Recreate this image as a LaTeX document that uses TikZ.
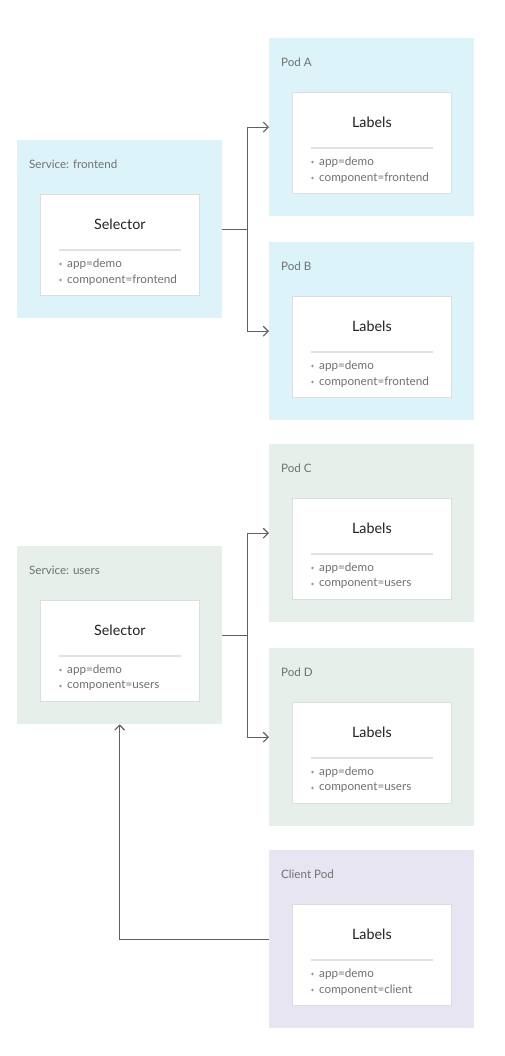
\documentclass[tikz,border=0pt]{standalone}
\usepackage{fontspec}
\setmainfont{Lato}
\usetikzlibrary{calc,arrows.meta}
\definecolor{bluebg}{HTML}{DDF3FA}
\definecolor{greenbg}{HTML}{E7EFEA}
\definecolor{lavbg}{HTML}{E8E5F3}
\definecolor{innerborder}{HTML}{DDDDDD}
\definecolor{sepgray}{HTML}{E2E2E2}
\definecolor{txtgray}{HTML}{707070}
\definecolor{headtxt}{HTML}{212121}
\definecolor{conngray}{HTML}{616161}
\tikzset{
  outerbox/.style={inner sep=0, minimum width=205pt, minimum height=178pt, draw=none},
  innerbox/.style={inner sep=0, minimum width=159pt, minimum height=101pt, fill=white, draw=innerborder, line width=0.8pt},
  titletext/.style={inner sep=0, text=txtgray, font=\fontsize{11.6}{13}\selectfont},
  headtext/.style={inner sep=0, text=headtxt, font=\fontsize{14.3}{17}\selectfont},
  itemtext/.style={inner sep=0, text=txtgray, font=\fontsize{11.7}{13}\selectfont},
  sepline/.style={draw=sepgray, line width=1.5pt},
  bulletdot/.style={circle, fill=txtgray!75, inner sep=0, minimum size=2.8pt},
  conn/.style={draw=conngray, line width=1.1pt},
  arr/.style={conn, -{Straight Barb[length=5pt,width=10pt]}}
}
\newcommand{\podbox}[7]{%
  \node[outerbox, fill=#4, anchor=north west] (#1) at (#2,#3) {};
  \node[titletext, anchor=west] (#1t) at ($(#1.north west)+(12,24)$) {#5};
  \node[innerbox, anchor=north west] (#1i) at ($(#1.north west)+(23,54)$) {};
  \node[headtext] (#1h) at ($(#1i.north)+(0,30)$) {#6};
  \draw[sepline] ($(#1i.north west)+(19,56)$) -- ($(#1i.north east)+(-19,56)$);
  \node[bulletdot] (#1b1) at ($(#1i.north west)+(20.5,70)$) {};
  \node[itemtext, anchor=west] (#1a) at ($(#1i.north west)+(27,70)$) {app=demo};
  \node[bulletdot] (#1b2) at ($(#1i.north west)+(20.5,86)$) {};
  \node[itemtext, anchor=west] (#1c) at ($(#1i.north west)+(27,86)$) {component=#7};
}
\begin{document}
\begin{tikzpicture}[x=1pt,y=-1pt]
\useasboundingbox[fill=white] (0,0) rectangle (504,1056);
\podbox{sf}{17}{140}{bluebg}{Service: frontend}{Selector}{frontend}
\podbox{pa}{269}{38}{bluebg}{Pod A}{Labels}{frontend}
\podbox{pb}{269}{242}{bluebg}{Pod B}{Labels}{frontend}
\podbox{su}{17}{546}{greenbg}{Service: users}{Selector}{users}
\podbox{pc}{269}{444}{greenbg}{Pod C}{Labels}{users}
\podbox{pd}{269}{648}{greenbg}{Pod D}{Labels}{users}
\podbox{cp}{269}{850}{lavbg}{Client Pod}{Labels}{client}
\coordinate (j1) at ($(sf.east)+(25,0)$);
\draw[conn] (sf.east) -- (j1);
\draw[arr] (j1) |- (pa.west);
\draw[arr] (j1) |- (pb.west);
\coordinate (j2) at ($(su.east)+(25,0)$);
\draw[conn] (su.east) -- (j2);
\draw[arr] (j2) |- (pc.west);
\draw[arr] (j2) |- (pd.west);
\draw[arr] (cp.west) -| (su.south);
\end{tikzpicture}
\end{document}
